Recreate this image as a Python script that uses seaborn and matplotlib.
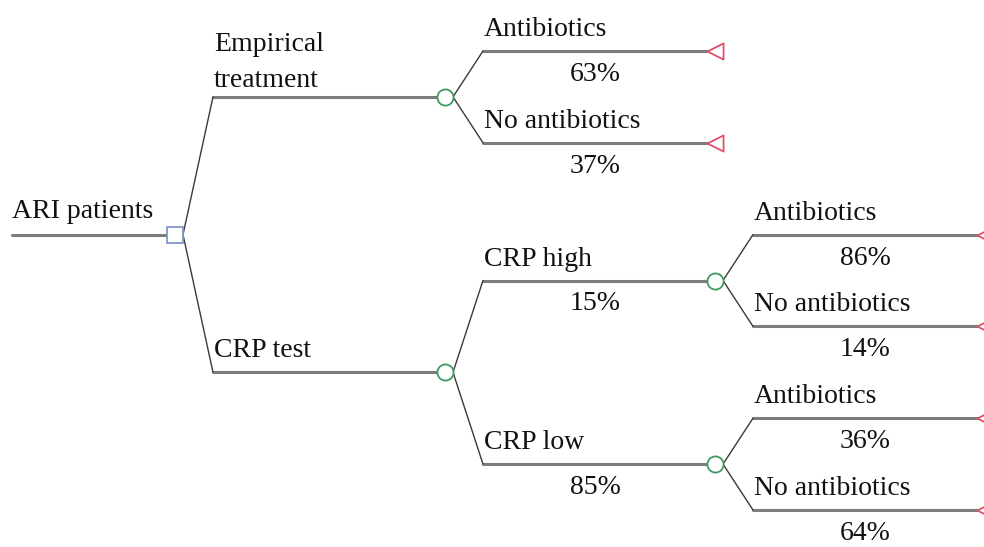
import pandas as pd
import seaborn as sns
import matplotlib.pyplot as plt

sns.set_theme(style="white")
plt.rcParams['font.family'] = ['Liberation Serif', 'DejaVu Serif']

# Tree data: branch i leads from node parents[i] to node i + 1 (node 0 = root)
root_label = "ARI patients"
branch_labels = ["Empirical\ntreatment", "Antibiotics", "No antibiotics",
                 "CRP test", "CRP high", "Antibiotics", "No antibiotics",
                 "CRP low", "Antibiotics", "No antibiotics"]
branch_probs = [None, 63, 37, None, 15, 86, 14, 85, 36, 64]
parents = [0, 1, 1, 0, 4, 5, 5, 4, 8, 8]
node_types = ["decision", "chance", "terminal", "terminal", "chance",
              "chance", "terminal", "terminal", "chance", "terminal", "terminal"]

# Layout (pixels)
X0, DX = 175, 270
Y0, DY = 51, 91.8
R, DIAG = 8, 30

n = len(node_types)
children = {i: [] for i in range(n)}
for b, p in enumerate(parents):
    children[p].append(b + 1)

depth = [0] * n
for b, p in enumerate(parents):
    depth[b + 1] = depth[p] + 1

ypos = [0.0] * n
leaf_count = [0]


def place(node):
    kids = children[node]
    if not kids:
        ypos[node] = Y0 + DY * leaf_count[0]
        leaf_count[0] += 1
    else:
        for k in kids:
            place(k)
        ypos[node] = sum(ypos[k] for k in kids) / len(kids)


place(0)
xpos = [X0 + DX * d for d in depth]

horiz, diag = [], []
horiz += [(-1, 12, ypos[0]), (-1, xpos[0] - R, ypos[0])]
for b, p in enumerate(parents):
    c = b + 1
    xs = xpos[p] + R + DIAG
    diag += [(b, xpos[p] + R, ypos[p]), (b, xs, ypos[c])]
    horiz += [(b, xs, ypos[c]), (b, xpos[c] - R, ypos[c])]

hdf = pd.DataFrame(horiz, columns=["seg", "x", "y"])
ddf = pd.DataFrame(diag, columns=["seg", "x", "y"])
nodes = pd.DataFrame({"x": xpos, "y": ypos, "type": node_types})

fig = plt.figure(figsize=(9.84, 5.47), dpi=100)
ax = fig.add_axes([0, 0, 1, 1])

sns.lineplot(data=hdf, x="x", y="y", units="seg", estimator=None, sort=False,
             color="#7c7c7c", lw=2.2, ax=ax, legend=False)
sns.lineplot(data=ddf, x="x", y="y", units="seg", estimator=None, sort=False,
             color="#3a3a3a", lw=1.0, ax=ax, legend=False)

styles = {"decision": ("s", "#8094cc"),
          "chance": ("o", "#3f9a62"),
          "terminal": ("<", "#e0506a")}
for t, (m, col) in styles.items():
    sub = nodes[nodes["type"] == t]
    sns.scatterplot(data=sub, x="x", y="y", marker=m, s=135, facecolor="white",
                    edgecolor=col, linewidth=1.3, ax=ax, zorder=5, legend=False)

fs = 20
tc = "#111111"
ax.text(12, ypos[0] - 17, root_label, fontsize=fs, color=tc, va="baseline")
for b, p in enumerate(parents):
    c = b + 1
    xs = xpos[p] + R + DIAG
    xe = xpos[c] - R
    lines = branch_labels[b].split("\n")
    off = 15 if len(lines) == 1 else 10
    for k, line in enumerate(reversed(lines)):
        ax.text(xs + 1, ypos[c] - off - 36 * k, line, fontsize=fs, color=tc,
                va="baseline", ha="left")
    if branch_probs[b] is not None:
        ax.text((xs + xe) / 2, ypos[c] + 30, f"{branch_probs[b]}%",
                fontsize=fs, color=tc, va="baseline", ha="center")

ax.set_xlim(0, 984)
ax.set_ylim(547, 0)
ax.axis("off")

fig.savefig("out.png", dpi=100)
